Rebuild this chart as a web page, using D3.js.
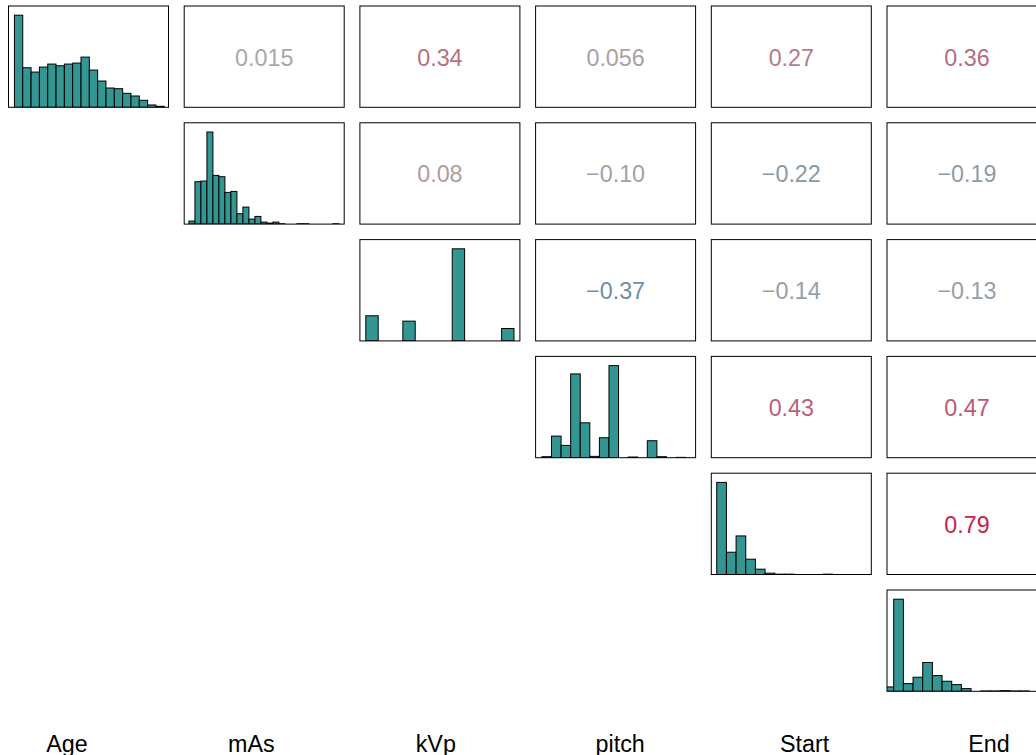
<!DOCTYPE html>
<html><head><meta charset="utf-8">
<script src="https://cdn.jsdelivr.net/npm/d3@7"></script>
<style>body{margin:0;background:#fff;overflow:hidden}</style>
</head><body>
<svg id="chart" width="1036" height="755"></svg>
<script>
// ---------- DATA ----------
const variables = ["Age", "mAs", "kVp", "pitch", "Start", "End"];

const ageBreaks = [0,5,10,15,20,25,30,35,40,45,50,55,60,65,70,75,80,85,90];
const ageCounts = [277,119,106,121,130,125,130,133,151,112,79,58,56,42,34,21,7,3];
const ageRange = [0, 89];

const masBreaks = [40,60,80,100,120,140,160,180,200,220,240,260,280,300,320,340,360,380,400,420,440,460,480,500,520,540];
const masCounts = [9,127,129,276,146,142,95,98,31,51,15,23,6,3,6,1,0,0,1,1,0,0,0,0,1];
const masRange = [44, 538];

const kvpBreaks = [80,85,90,95,100,105,110,115,120,125,130,135,140];
const kvpCounts = [75,0,0,59,0,0,0,275,0,0,0,37];
const kvpRange = [80, 140];

const pitchBreaks = [0.5,0.55,0.6,0.65,0.7,0.75,0.8,0.85,0.9,0.95,1.0,1.05,1.1,1.15,1.2,1.25,1.3];
const pitchCounts = [3,65,37,252,105,4,60,277,0,2,0,51,3,0,1,0];
const pitchRange = [0.498, 1.271];

const startBreaks = [0,10,20,30,40,50,60,70,80,90,100,110,120,130,140,150,160];
const startCounts = [277,67,116,46,16,4,1,1,0,0,0,1,0,0,0,0];
const startRange = [0.5, 153.7];

const endBreaks = [0,10,20,30,40,50,60,70,80,90,100,110,120,130,140,150,160,170];
const endCounts = [13,275,23,42,86,47,30,20,8,0,1,1,2,1,1,0,1];
const endRange = [9.2, 162.4];

// upper-triangle correlations, row by row
const corrAge   = [0.015, 0.34, 0.056, 0.27, 0.36];
const corrMas   = [0.08, -0.10, -0.22, -0.19];
const corrKvp   = [-0.37, -0.14, -0.13];
const corrPitch = [0.43, 0.47];
const corrStart = [0.79];
const corrAgeLabels   = ["0.015", "0.34", "0.056", "0.27", "0.36"];
const corrMasLabels   = ["0.08", "\u22120.10", "\u22120.22", "\u22120.19"];
const corrKvpLabels   = ["\u22120.37", "\u22120.14", "\u22120.13"];
const corrPitchLabels = ["0.43", "0.47"];
const corrStartLabels = ["0.79"];

// ---------- LAYOUT ----------
const svg = d3.select("#chart");
const FONT = "'Liberation Sans', Arial, Helvetica, sans-serif";
const pw = 160, ph = 101.3;
const colX = d3.scaleLinear().domain([0, 1]).range([8.5, 8.5 + 175.7]);
const rowY = d3.scaleLinear().domain([0, 1]).range([6, 6 + 116.8]);
const corrColor = d3.scaleLinear().domain([-1, 0, 1]).range(["#145aa5", "#aaaaaa", "#cc0033"]);

const hists = [
  [ageBreaks, ageCounts, ageRange],
  [masBreaks, masCounts, masRange],
  [kvpBreaks, kvpCounts, kvpRange],
  [pitchBreaks, pitchCounts, pitchRange],
  [startBreaks, startCounts, startRange],
  [endBreaks, endCounts, endRange]
];
const corrRows = [
  [corrAge, corrAgeLabels],
  [corrMas, corrMasLabels],
  [corrKvp, corrKvpLabels],
  [corrPitch, corrPitchLabels],
  [corrStart, corrStartLabels]
];

const defs = svg.append("defs");

// diagonal histograms
hists.forEach(([breaks, counts, range], k) => {
  const g = svg.append("g").attr("transform", `translate(${colX(k)},${rowY(k)})`);
  defs.append("clipPath").attr("id", "clip" + k)
    .append("rect").attr("x", 0).attr("y", 0).attr("width", pw).attr("height", ph);
  const span = range[1] - range[0];
  const x = d3.scaleLinear().domain([range[0] - 0.04 * span, range[1] + 0.04 * span]).range([0, pw]);
  const y = d3.scaleLinear().domain([0, 1.1]).range([ph, 0]);
  const mx = d3.max(counts);
  g.append("g").attr("clip-path", `url(#clip${k})`)
    .selectAll("rect").data(counts).join("rect")
    .attr("x", (d, i) => x(breaks[i]))
    .attr("width", (d, i) => x(breaks[i + 1]) - x(breaks[i]))
    .attr("y", d => y(d / mx))
    .attr("height", d => ph - y(d / mx))
    .attr("fill", "#339693")
    .attr("stroke", "#000")
    .attr("stroke-width", 1);
  g.append("rect").attr("width", pw).attr("height", ph)
    .attr("fill", "none").attr("stroke", "#000").attr("stroke-width", 1);
});

// upper triangle correlation panels
corrRows.forEach(([vals, labels], i) => {
  vals.forEach((r, m) => {
    const j = i + 1 + m;
    const g = svg.append("g").attr("transform", `translate(${colX(j)},${rowY(i)})`);
    g.append("rect").attr("width", pw).attr("height", ph)
      .attr("fill", "none").attr("stroke", "#000").attr("stroke-width", 1);
    g.append("text")
      .attr("x", pw / 2).attr("y", ph / 2 + 9)
      .attr("text-anchor", "middle")
      .attr("font-family", FONT).attr("font-size", 23.3)
      .attr("fill", corrColor(r))
      .text(labels[m]);
  });
});

// variable labels along the bottom
const labelX = d3.scalePoint().domain(variables).range([67, 989]);
svg.append("g").selectAll("text").data(variables).join("text")
  .attr("x", d => labelX(d)).attr("y", 751.5)
  .attr("text-anchor", "middle")
  .attr("font-family", FONT).attr("font-size", 23.3)
  .attr("fill", "#000")
  .text(d => d);
</script>
</body></html>
